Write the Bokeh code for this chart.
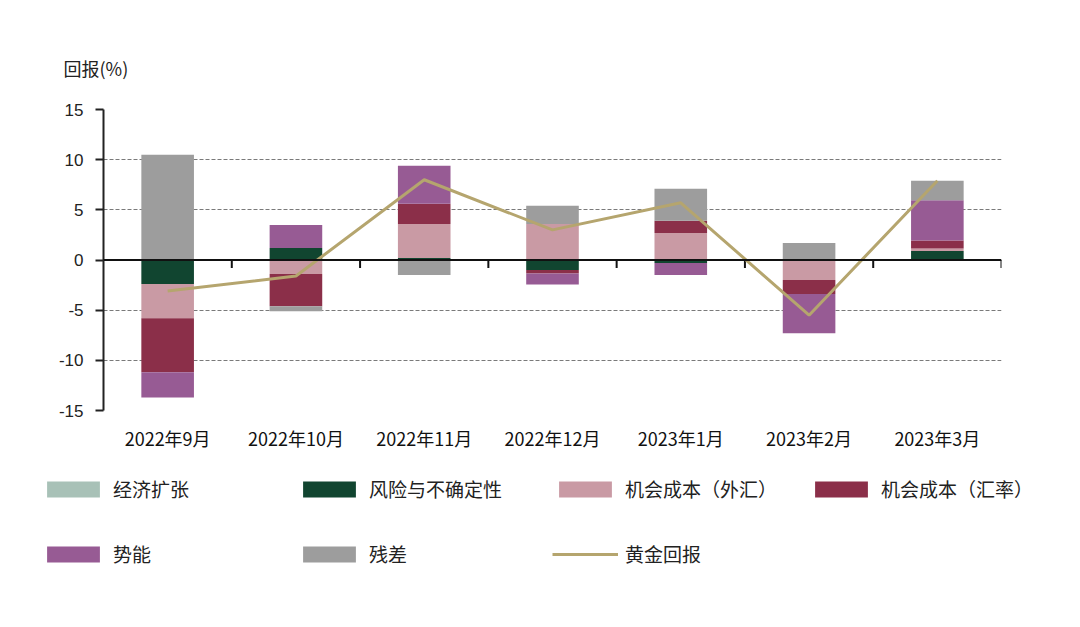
import numpy as np
from bokeh.plotting import figure
from bokeh.layouts import column, row
from bokeh.models import Range1d, FixedTicker, Legend, LegendItem, Span
from bokeh.embed import file_html
from bokeh.resources import INLINE

months = ["2022年9月", "2022年10月", "2022年11月", "2022年12月", "2023年1月", "2023年2月", "2023年3月"]
series_names = ["经济扩张", "风险与不确定性", "机会成本（外汇）", "机会成本（汇率）", "势能", "残差"]
econ = [0.0, 0.0, 0.0, 0.0, 0.0, 0.0, 0.1]
risk = [-2.4, 1.2, 0.2, -1.0, -0.3, 0.0, 0.8]
fx = [-3.4, -1.4, 3.4, 3.6, 2.7, -2.0, 0.25]
rate = [-5.4, -3.2, 2.0, -0.35, 1.2, -1.4, 0.8]
momentum = [-2.5, 2.3, 3.8, -1.1, -1.2, -3.9, 4.0]
residual = [10.5, -0.5, -1.5, 1.8, 3.2, 1.7, 1.95]
gold = [-3.1, -1.6, 8.0, 3.0, 5.7, -5.5, 7.9]
gold_name = "黄金回报"
y_ticks = [-15, -10, -5, 0, 5, 10, 15]

colors = ["#a8c1b7", "#114530", "#c99aa4", "#8b2f49", "#975b94", "#9d9d9d"]
gold_color = "#b5a56e"

CJK = "Noto Sans CJK SC"
n = len(months)
xc = np.arange(n) + 0.5

p = figure(width=1064, height=460, output_backend="svg", toolbar_location=None,
           x_range=Range1d(0, n), y_range=Range1d(-15, 15),
           min_border_left=103, min_border_right=63, min_border_top=109, min_border_bottom=50)
p.outline_line_color = None
p.background_fill_color = "white"

p.title.text = "回报(%)"
p.title.text_font = CJK
p.title.text_font_size = "18px"
p.title.text_font_style = "normal"
p.title.text_color = "#222222"
p.title.align = "left"
p.title.offset = -40
p.title.standoff = 58

# grid
p.xgrid.grid_line_color = None
p.ygrid.ticker = FixedTicker(ticks=y_ticks)
p.ygrid.grid_line_color = "#7a7a7a"
p.ygrid.grid_line_dash = "4 2"
p.ygrid.grid_line_width = 1

# y axis
p.yaxis.ticker = FixedTicker(ticks=y_ticks)
p.yaxis.major_label_overrides = {t: str(t) for t in y_ticks}
p.yaxis.axis_line_color = "#222222"
p.yaxis.axis_line_width = 2
p.yaxis.major_tick_line_color = "#222222"
p.yaxis.major_tick_line_width = 2
p.yaxis.major_tick_out = 8
p.yaxis.major_tick_in = 0
p.yaxis.minor_tick_line_color = None
p.yaxis.major_label_text_font = "Liberation Sans"
p.yaxis.major_label_text_font_size = "17px"
p.yaxis.major_label_text_color = "#222222"
p.yaxis.major_label_standoff = 12

# x axis (labels only)
p.xaxis.ticker = FixedTicker(ticks=list(xc))
p.xaxis.major_label_overrides = {float(v): m for v, m in zip(xc, months)}
p.xaxis.axis_line_color = None
p.xaxis.major_tick_line_color = None
p.xaxis.minor_tick_line_color = None
p.xaxis.major_label_text_font = CJK
p.xaxis.major_label_text_font_size = "18px"
p.xaxis.major_label_text_color = "#111111"
p.xaxis.major_label_standoff = 8

# stacked bars
all_series = [econ, risk, fx, rate, momentum, residual]
pos = np.zeros(n)
neg = np.zeros(n)
bar_renderers = []
for vals, col in zip(all_series, colors):
    v = np.array(vals, dtype=float)
    bottom = np.where(v >= 0, pos, neg)
    top = bottom + v
    pos = np.where(v >= 0, top, pos)
    neg = np.where(v < 0, top, neg)
    r = p.vbar(x=xc, bottom=bottom, top=top, width=0.41, fill_color=col, line_color=None)
    bar_renderers.append(r)

# zero line with category-boundary ticks
p.add_layout(Span(location=0, dimension="width", line_color="#111111", line_width=2))
bounds = np.arange(1, n + 1)
p.segment(x0=bounds, x1=bounds, y0=np.zeros(n), y1=np.full(n, -0.8), line_color="#111111", line_width=2)

gold_r = p.line(xc, gold, line_color=gold_color, line_width=3)

# legend in its own figure below (proxy renderers hold NaN so nothing is plotted)
lg = figure(width=1064, height=150, output_backend="svg", toolbar_location=None,
            x_range=Range1d(0, 1), y_range=Range1d(0, 1),
            x_axis_location=None, y_axis_location=None,
            min_border_left=0, min_border_right=0, min_border_top=0, min_border_bottom=0)
lg.grid.grid_line_color = None
lg.outline_line_color = None
proxies = [lg.vbar(x=[np.nan], top=[np.nan], width=0.5, fill_color=c, line_color=None) for c in colors]
gold_proxy = lg.line(x=[np.nan], y=[np.nan], line_color=gold_color, line_width=3)

legend_kw = dict(orientation="horizontal", glyph_width=66, glyph_height=20, label_standoff=7,
                 label_width=183, spacing=0, padding=0, margin=0, border_line_color=None,
                 background_fill_alpha=0, label_text_font=CJK, label_text_font_size="19px",
                 label_text_color="#222222")
items1 = [LegendItem(label=series_names[i], renderers=[proxies[i]]) for i in range(4)]
items2 = [LegendItem(label=series_names[i], renderers=[proxies[i]]) for i in range(4, 6)]
items2.append(LegendItem(label=gold_name, renderers=[gold_proxy]))
leg1 = Legend(items=items1, location=(40, 108), **legend_kw)
leg2 = Legend(items=items2, location=(40, 43), **legend_kw)
lg.add_layout(leg1)
lg.add_layout(leg2)

layout = column(p, row(lg, spacing=0), spacing=0)
open("out.html", "w").write(file_html(layout, INLINE))
